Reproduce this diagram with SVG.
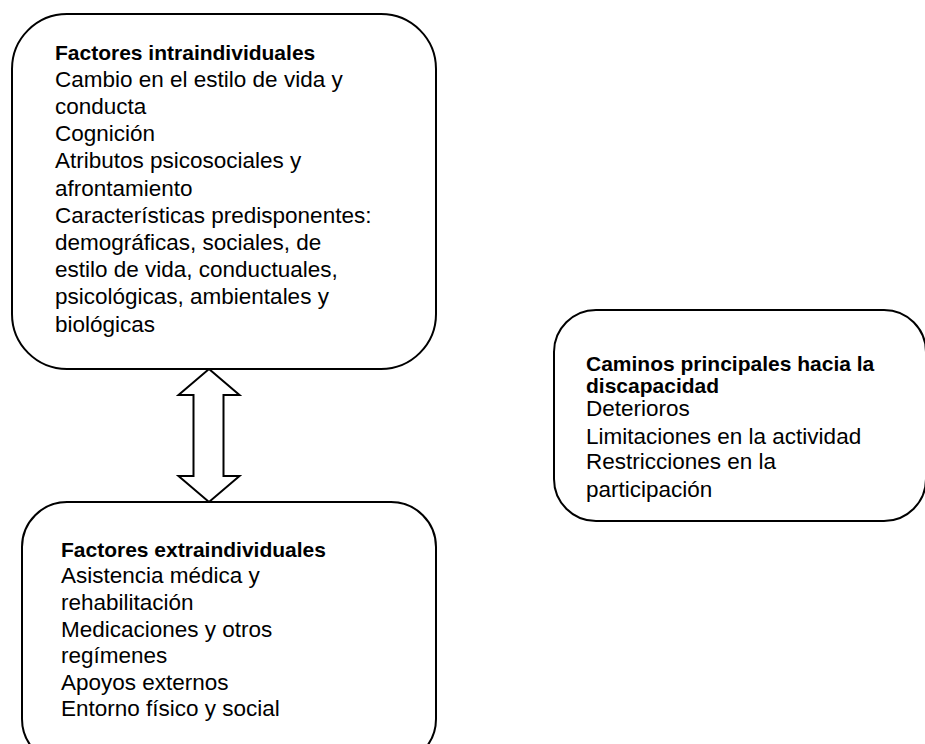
<svg xmlns="http://www.w3.org/2000/svg" width="925" height="744" viewBox="0 0 925 744">
  <style>
    .box { fill: #ffffff; stroke: #000000; stroke-width: 2; }
    .arrow { fill: #ffffff; stroke: #000000; stroke-width: 2; stroke-linejoin: miter; }
    text { font-family: "Liberation Sans", Arial, sans-serif; fill: #000000; }
    .title { font-size: 21px; font-weight: bold; }
    .item { font-size: 22.5px; }
  </style>
  <rect width="925" height="744" fill="#ffffff"/>

  <g id="connectors">
    <!-- two-way block arrow between the intra- and extra-individual boxes -->
    <polygon class="arrow" points="209,369 239.5,395 223.5,395 223.5,476 239.5,476 209,502 178.5,476 193.5,476 193.5,395 178.5,395"/>
  </g>

  <g id="intraindividuales">
    <rect class="box" x="12" y="14" width="424" height="355" rx="55" ry="55"/>
    <text x="55" y="59.5" class="title">Factores intraindividuales</text>
    <text x="55" y="86.7" class="item">Cambio en el estilo de vida y</text>
    <text x="55" y="113.9" class="item">conducta</text>
    <text x="55" y="141.1" class="item">Cognición</text>
    <text x="55" y="168.3" class="item">Atributos psicosociales y</text>
    <text x="55" y="195.5" class="item">afrontamiento</text>
    <text x="55" y="222.7" class="item">Características predisponentes:</text>
    <text x="55" y="249.9" class="item">demográficas, sociales, de</text>
    <text x="55" y="277.1" class="item">estilo de vida, conductuales,</text>
    <text x="55" y="304.3" class="item">psicológicas, ambientales y</text>
    <text x="55" y="331.5" class="item">biológicas</text>
  </g>

  <g id="extraindividuales">
    <rect class="box" x="22" y="502" width="414" height="262" rx="45" ry="45"/>
    <text x="61" y="556.7" class="title">Factores extraindividuales</text>
    <text x="61" y="583.3" class="item">Asistencia médica y</text>
    <text x="61" y="610" class="item">rehabilitación</text>
    <text x="61" y="636.7" class="item">Medicaciones y otros</text>
    <text x="61" y="663.3" class="item">regímenes</text>
    <text x="61" y="689.5" class="item">Apoyos externos</text>
    <text x="61" y="715.5" class="item">Entorno físico y social</text>
  </g>

  <g id="caminos">
    <rect class="box" x="554" y="310" width="372" height="211" rx="42" ry="42"/>
    <text x="586" y="370.7" class="title">Caminos principales hacia la</text>
    <text x="586" y="393.3" class="title">discapacidad</text>
    <text x="586" y="415.5" class="item">Deterioros</text>
    <text x="586" y="443.5" class="item">Limitaciones en la actividad</text>
    <text x="586" y="469" class="item">Restricciones en la</text>
    <text x="586" y="496.7" class="item">participación</text>
  </g>
</svg>
